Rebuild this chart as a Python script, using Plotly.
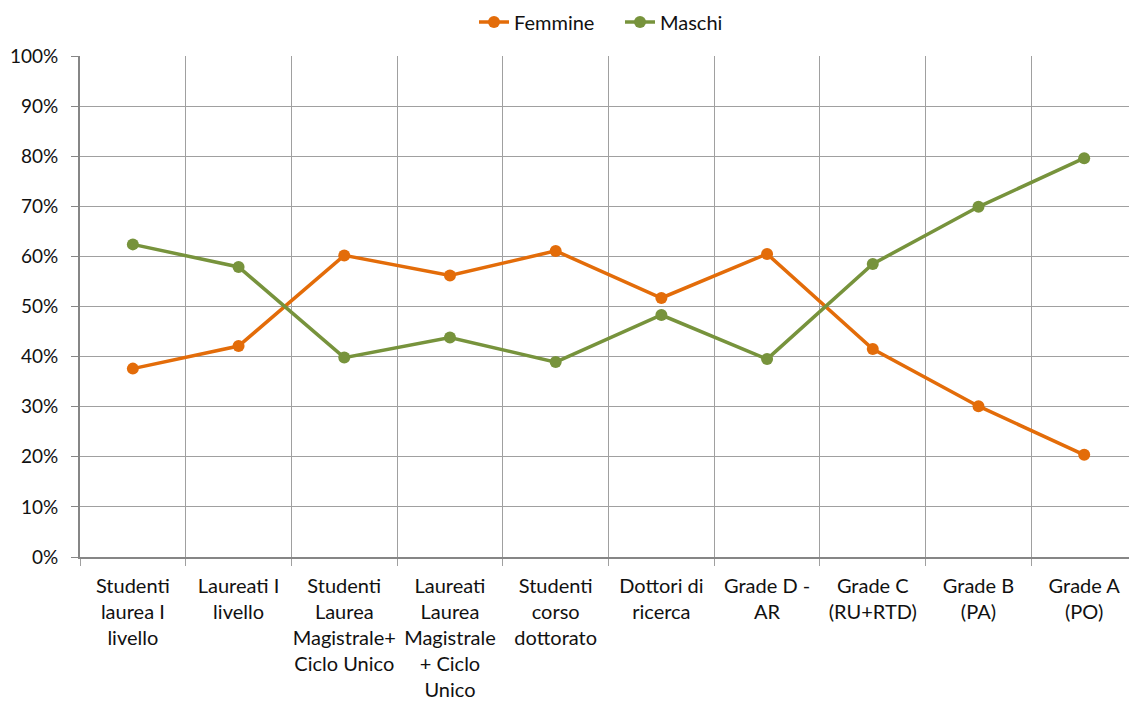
import plotly.graph_objects as go

categories = [
    "Studenti<br>laurea I<br>livello",
    "Laureati I<br>livello",
    "Studenti<br>Laurea<br>Magistrale+<br>Ciclo Unico",
    "Laureati<br>Laurea<br>Magistrale<br>+ Ciclo<br>Unico",
    "Studenti<br>corso<br>dottorato",
    "Dottori di<br>ricerca",
    "Grade D -<br>AR",
    "Grade C<br>(RU+RTD)",
    "Grade B<br>(PA)",
    "Grade A<br>(PO)",
]
femmine = [0.376, 0.421, 0.602, 0.562, 0.611, 0.517, 0.605, 0.415, 0.301, 0.204]
maschi = [0.624, 0.579, 0.398, 0.438, 0.389, 0.483, 0.395, 0.585, 0.699, 0.796]
y_ticks = [0, 0.1, 0.2, 0.3, 0.4, 0.5, 0.6, 0.7, 0.8, 0.9, 1.0]

ORANGE = "#E36C09"
GREEN = "#77933C"
FONT = "Lato"
TXT = "#111111"

fig = go.Figure()
fig.add_trace(go.Scatter(
    x=categories, y=femmine, name="Femmine", mode="lines+markers",
    line=dict(color=ORANGE, width=3.5), marker=dict(color=ORANGE, size=12),
))
fig.add_trace(go.Scatter(
    x=categories, y=maschi, name="Maschi", mode="lines+markers",
    line=dict(color=GREEN, width=3.5), marker=dict(color=GREEN, size=12),
))

fig.update_layout(
    width=1129, height=702,
    margin=dict(l=80, r=0, t=56, b=145, autoexpand=False),
    paper_bgcolor="white", plot_bgcolor="white",
    font=dict(family=FONT, size=19, color=TXT),
    showlegend=True,
    legend=dict(orientation="h", xref="container", yref="container",
                x=474 / 1129, xanchor="left", y=1 - 22 / 702, yanchor="middle",
                font=dict(family=FONT, size=20, color=TXT), itemwidth=30,
                entrywidth=101, tracegroupgap=0),
)
fig.update_xaxes(
    type="category", range=[-0.5, 9.424], automargin=False,
    tickson="boundaries", ticks="outside", ticklen=7, tickcolor="#A0A0A0",
    showgrid=True, gridcolor="#A0A0A0", gridwidth=1,
    showline=True, linecolor="#868686", linewidth=2,
    tickfont=dict(family=FONT, size=20, color=TXT),
    tickangle=0, ticklabelstandoff=10,
)
fig.update_yaxes(
    range=[0, 1.0], tickvals=y_ticks, tickformat=".0%", automargin=False,
    ticks="outside", ticklen=7, tickcolor="#868686",
    showgrid=True, gridcolor="#A0A0A0", gridwidth=1,
    showline=True, linecolor="#868686", linewidth=2,
    zeroline=False,
    tickfont=dict(family=FONT, size=19, color=TXT),
    ticklabelstandoff=9,
)

fig.write_html(
    "out.html",
    config={"displayModeBar": False},
    post_script="document.body.style.margin='0';document.body.style.overflow='hidden';",
)
